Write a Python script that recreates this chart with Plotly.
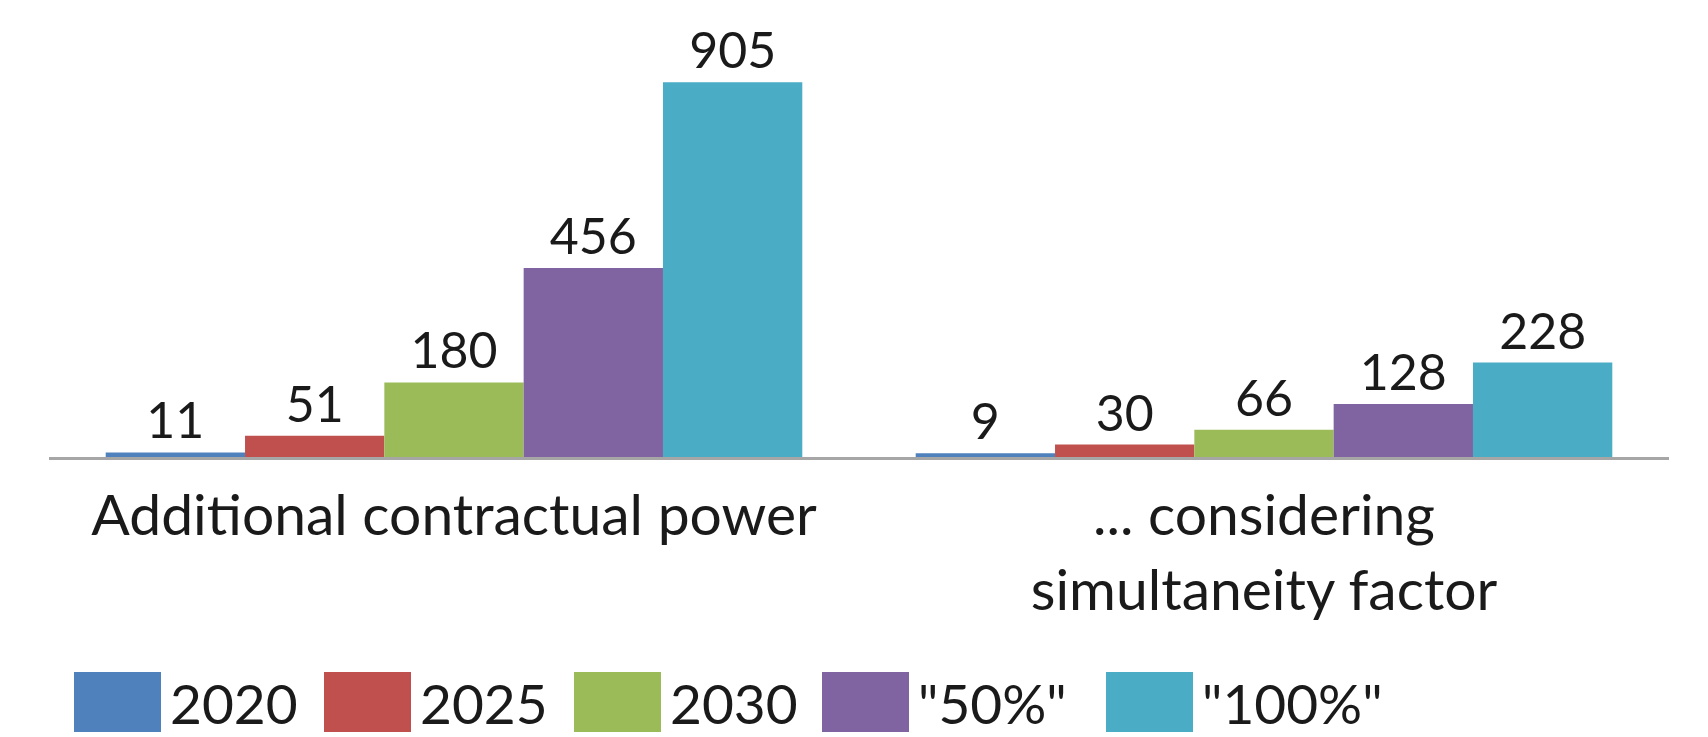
import plotly.graph_objects as go

# Data
categories = ["Additional contractual power", "... considering<br>simultaneity factor"]
series_names = ["2020", "2025", "2030", "\"50%\"", "\"100%\""]
values_2020 = [11, 9]
values_2025 = [51, 30]
values_2030 = [180, 66]
values_50 = [456, 128]
values_100 = [905, 228]
series_values = [values_2020, values_2025, values_2030, values_50, values_100]
colors = ["#4F81BD", "#C0504D", "#9BBB59", "#8064A2", "#4BACC6"]

FONT = "Lato"
W, H = 1708, 737
ML, MR, MT, MB = 49, 39, 20, 280

fig = go.Figure()
for name, vals, col in zip(series_names, series_values, colors):
    fig.add_trace(go.Bar(
        x=categories, y=vals, name=name,
        marker=dict(color=col, line=dict(width=0)),
        text=vals, textposition="outside", cliponaxis=False,
        textfont=dict(family=FONT, size=50, color="#1a1a1a"),
        showlegend=False,
    ))

# Hand-drawn legend with large swatches below the plot
plot_w = W - ML - MR
plot_h = H - MT - MB
def px_x(px):
    return (px - ML) / plot_w
def px_y(py):
    return (H - MB - py) / plot_h

swatch_left = [74, 324, 574, 822, 1106]
shapes = []
annotations = []
for i, (name, col) in enumerate(zip(series_names, colors)):
    x0 = swatch_left[i]
    shapes.append(dict(type="rect", xref="paper", yref="paper",
                       x0=px_x(x0), x1=px_x(x0 + 87),
                       y0=px_y(732), y1=px_y(672),
                       fillcolor=col, line=dict(width=0)))
    annotations.append(dict(xref="paper", yref="paper",
                            x=px_x(x0 + 94), y=px_y(703),
                            xanchor="left", yanchor="middle",
                            text=name, showarrow=False,
                            font=dict(family=FONT, size=55, color="#1a1a1a")))

fig.update_layout(
    width=W, height=H,
    margin=dict(l=ML, r=MR, t=MT, b=MB),
    paper_bgcolor="white", plot_bgcolor="white",
    barmode="group", bargap=0.14, bargroupgap=0,
    shapes=shapes, annotations=annotations,
    xaxis=dict(showline=True, linecolor="#A6A6A6", linewidth=3,
               ticks="", showgrid=False, zeroline=False,
               tickfont=dict(family=FONT, size=57, color="#1a1a1a"),
               ticklabelstandoff=7),
    yaxis=dict(range=[0, 1055], visible=False, showgrid=False, zeroline=False),
)

fig.write_html("out.html")
